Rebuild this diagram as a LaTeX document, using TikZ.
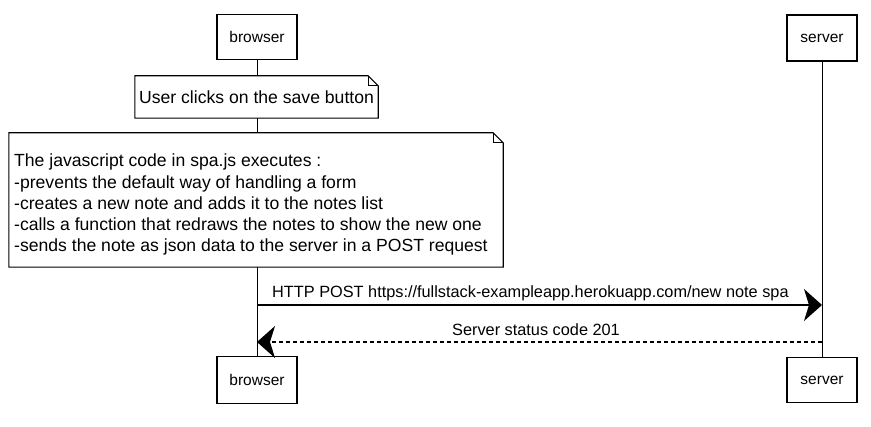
\documentclass[tikz,border=0pt]{standalone}
\usepackage{fontspec}
\setmainfont{Liberation Sans}
\usetikzlibrary{arrows.meta,calc}
\tikzset{
  actor/.style={draw, line width=1.1pt, fill=white, inner sep=0pt, font=\fontsize{15.5}{17}\selectfont},
  notebody/.style={fill=white, inner sep=0pt, font=\fontsize{17.6}{21.2}\selectfont, align=left},
  lifeline/.style={line width=0.9pt},
  msg/.style={line width=1.1pt, -{Stealth[length=18pt,width=32pt,inset=5pt]}},
  reply/.style={msg, dash pattern=on 4pt off 3pt},
  lbl/.style={font=\fontsize{16.3}{18}\selectfont, inner sep=0pt}
}
\newcommand{\notedraw}[1]{%
  \draw[line width=1.1pt] (#1.north west) -- ($(#1.north east)+(-10,0)$) -- ($(#1.north east)+(0,10)$) -- (#1.south east) -- (#1.south west) -- cycle;
  \draw[line width=0.8pt] ($(#1.north east)+(-10,0)$) -- ($(#1.north east)+(-10,10)$) -- ($(#1.north east)+(0,10)$);
}
\begin{document}
\begin{tikzpicture}[x=1pt,y=-1pt]
\useasboundingbox (0,0) rectangle (871,427);
% actors
\node[actor, minimum width=80pt, minimum height=45pt] (bt) at (257,37) {browser};
\node[actor, minimum width=70pt, minimum height=46pt] (st) at (822,38) {server};
\node[actor, minimum width=80pt, minimum height=47pt] (bb) at (257,380) {browser};
\node[actor, minimum width=70pt, minimum height=45pt] (sb) at (822,380) {server};
% lifelines
\draw[lifeline] (bt.south) -- (bb.north);
\draw[lifeline] (st.south) -- (sb.north);
% notes
\node[notebody, minimum width=243pt, minimum height=42pt, align=center] (n1) at (256.5,97) {User clicks on the save button};
\notedraw{n1}
\node[notebody, minimum width=494pt, minimum height=134pt] (n2) at (256,200) {};
\notedraw{n2}
\node[notebody, anchor=north west] (n2t) at (14,154) {The javascript code in spa.js executes :\\
-prevents the default way of handling a form\\
-creates a new note and adds it to the notes list\\
-calls a function that redraws the notes to show the new one\\
-sends the note as json data to the server in a POST request};
% messages
\coordinate (p1) at (257,305);
\coordinate (q1) at (822,305);
\coordinate (p2) at (822,342);
\coordinate (q2) at (257,342);
\draw[msg] (p1) -- (q1);
\node[lbl, anchor=west] (l1) at (272,293) {HTTP POST https://fullstack-exampleapp.herokuapp.com/new note spa};
\draw[reply] (p2) -- (q2);
\node[lbl, anchor=west] (l2) at (452,330) {Server status code 201};
\end{tikzpicture}
\end{document}
